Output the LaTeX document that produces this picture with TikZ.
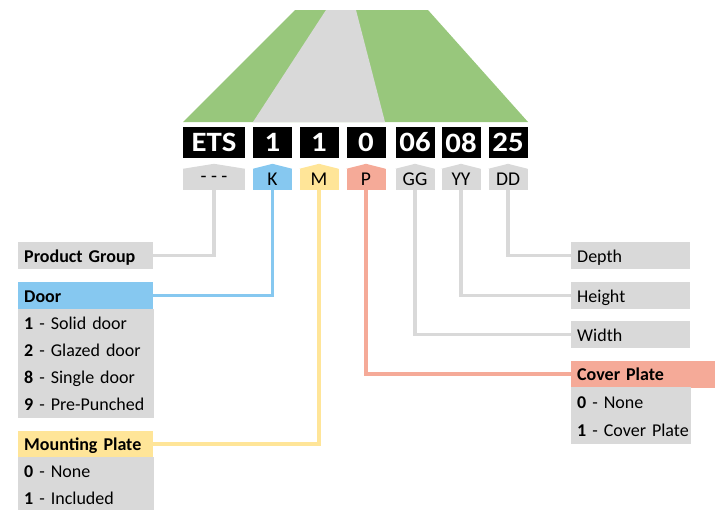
\documentclass[tikz,border=0pt]{standalone}
\usepackage{fontspec}
\setmainfont{Carlito}
\usepackage{graphicx}
\usetikzlibrary{
	calc,
	positioning
}
\definecolor{codeGreen}{HTML}{98C77C}
\definecolor{codeGrey}{HTML}{D9D9D9}
\definecolor{codeBlue}{HTML}{86C8F0}
\definecolor{codeYellow}{HTML}{FFE598}
\definecolor{codeRed}{HTML}{F5AA98}
\newcommand\Widen[1]{\scalebox{1.1}[1]{#1}}

\begin{document}
\begin{tikzpicture}[x=1pt, y=-1pt]

	\useasboundingbox (0,0) rectangle (715,509);

	\begin{scope}[
			codebox/.style={fill=black, text=white, inner sep=0pt, minimum width=39pt, minimum height=31pt,
				font=\fontsize{28}{28}\selectfont\bfseries},
			tagbox/.style={fill=#1, inner sep=0pt, minimum width=39pt, minimum height=21pt,
				font=\fontsize{19.5}{19.5}\selectfont},
			rowbox/.style={fill=codeGrey, anchor=west, inner xsep=6pt, inner ysep=0pt, minimum height=27pt,
				text height=14pt, text depth=1pt, align=left, text width=123pt,
				font=\fontsize{18}{18}\selectfont},
			bodyrow/.style={rowbox, draw=codeGrey, line width=0.4pt},
			linkline/.style={draw=#1, line width=3.5pt}
			]

		% road
		\fill[codeGreen] (183,122) -- (295,10) -- (428,10) -- (528,122) -- cycle;
		\fill[codeGrey] (253,122) -- (326,10) -- (356,10) -- (385,122) -- cycle;

		% code digits and their tags
		\newcommand\TagY{179.5}
		\foreach \x/\d/\t/\c/\n in {272.5/1/K/codeBlue/K, 319/1/M/codeYellow/M,
				366/0/P/codeRed/P, 415/06/GG/codeGrey/W, 461/08/YY/codeGrey/H, 508/25/DD/codeGrey/D} {
			\node[codebox] (c\n) at (\x,142.5) {\Widen{\d}};
			\node[tagbox=\c] (t\n) at (\x,\TagY) {\t};
			\fill[\c] (t\n.north west) -- ($(t\n.north)+(0,-5)$) -- (t\n.north east) -- cycle;
		}
		\node[codebox, minimum width=62pt] (cG) at (214,142.5) {\Widen{ETS}};
		\node[tagbox=codeGrey, minimum width=62pt] (tG) at (214,\TagY) {- - -};
		\fill[codeGrey] (tG.north west) -- ($(tG.north)+(0,-5)$) -- (tG.north east) -- cycle;

		% left column
		\node[rowbox] (group) at (18,255.5) {\textbf{Product Group}};

		\node[rowbox, fill=codeBlue] (door) at (18,295.5) {\textbf{Door}};
		\foreach \k/\txt [count=\i] in {1/Solid door, 2/Glazed door, 8/Single door, 9/Pre-Punched}
			\node[bodyrow] (door\i) at (18,295.5+27*\i) {\mbox{\textbf{\k} - \txt}};

		\node[rowbox, fill=codeYellow] (mount) at (18,444) {\textbf{Mounting Plate}};
		\foreach \k/\txt [count=\i] in {0/None, 1/Included}
			\node[bodyrow] (mount\i) at (18,444+27*\i) {\mbox{\textbf{\k} - \txt}};

		% right column
		\node[rowbox, text width=107pt] (depth) at (571,255.5) {Depth};
		\node[rowbox, text width=107pt] (height) at (571,295.5) {Height};
		\node[rowbox, text width=107pt] (width) at (571,334.5) {Width};

		\node[rowbox, fill=codeRed, text width=132pt] (cover) at (571,374) {\textbf{Cover Plate}};
		\foreach \k/\txt [count=\i] in {0/None, 1/Cover Plate}
			\node[bodyrow, text width=107pt, minimum height=28pt] (cover\i) at (571,373.5+28*\i) {\mbox{\textbf{\k} - \txt}};

		% connectors
		\draw[linkline=codeGrey] (tG.south) |- (group.east);
		\draw[linkline=codeBlue] (tK.south) |- (door.east);
		\draw[linkline=codeYellow] (tM.south) |- (mount.east);
		\draw[linkline=codeRed] (tP.south) |- (cover.west);
		\draw[linkline=codeGrey] (tW.south) |- (width.west);
		\draw[linkline=codeGrey] (tH.south) |- (height.west);
		\draw[linkline=codeGrey] (tD.south) |- (depth.west);

	\end{scope}

\end{tikzpicture}
\end{document}
